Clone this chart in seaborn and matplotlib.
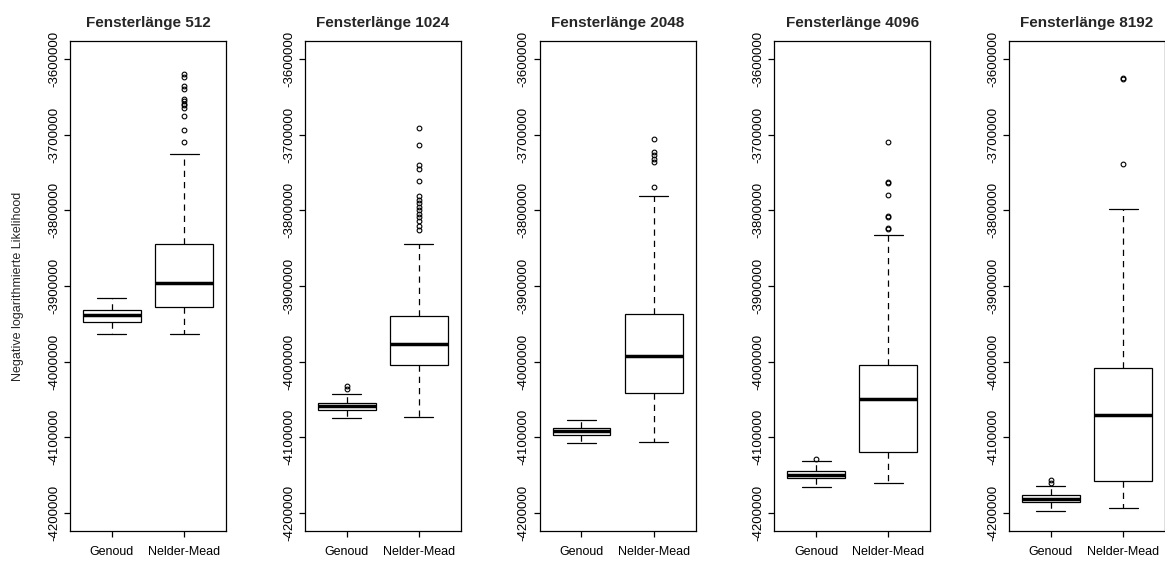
import numpy as np
import pandas as pd
import matplotlib
matplotlib.use("Agg")
import matplotlib.pyplot as plt
import seaborn as sns
from matplotlib.ticker import FixedLocator, FuncFormatter

# ---------------- data (values in thousands) ----------------
methods = ["Genoud", "Nelder-Mead"]
window_lengths = [512, 1024, 2048, 4096, 8192]

# [lower whisker, Q1, median, Q3, upper whisker]
genoud_stats = [
    [-3963, -3947, -3939, -3932, -3916],
    [-4074, -4064, -4059, -4055, -4043],
    [-4108, -4097, -4092, -4088, -4077],
    [-4166, -4154, -4150, -4145, -4132],
    [-4198, -4186, -4182, -4177, -4164],
]
genoud_outliers = [
    [],
    [-4032, -4036],
    [],
    [-4129],
    [-4157, -4161],
]
nm_stats = [
    [-3964, -3928, -3896, -3844, -3725],
    [-4073, -4004, -3977, -3940, -3845],
    [-4106, -4042, -3993, -3937, -3781],
    [-4161, -4120, -4050, -4004, -3833],
    [-4193, -4158, -4070, -4009, -3798],
]
nm_outliers = [
    [-3620, -3623, -3636, -3640, -3653, -3656, -3659, -3661, -3664, -3675, -3694, -3710],
    [-3691, -3713, -3740, -3745, -3761, -3781, -3786, -3790, -3795, -3800, -3805,
     -3809, -3814, -3820, -3826],
    [-3705, -3723, -3727, -3732, -3736, -3769],
    [-3710, -3762, -3764, -3780, -3807, -3809, -3823, -3825],
    [-3625, -3626, -3739],
]

y_ticks = [-3600000, -3700000, -3800000, -3900000, -4000000, -4100000, -4200000]
title_prefix = "Fensterlänge"
y_label = "Negative logarithmierte Likelihood"


def sample_from_summary(stats, outliers):
    """Sorted sample whose quartiles/whiskers equal the read summary values."""
    lo, q1, med, q3, hi = stats
    m = len(outliers)
    k = m + 2
    n = 4 * k + 1
    vals = [lo] + [q1] * k + [med] * k + [q3] * k
    vals += [q3] * (n - 1 - m - len(vals)) + [hi] + sorted(outliers)
    return np.array(vals, dtype=float) * 1000.0


# ---------------- styling ----------------
sns.set_theme(style="ticks")
plt.rcParams["font.family"] = ["Liberation Sans", "DejaVu Sans"]
plt.rcParams["axes.unicode_minus"] = False

W, H = 1165, 565
fig = plt.figure(figsize=(W / 100, H / 100), dpi=100)
fig.patch.set_facecolor("white")

frame_top, frame_bottom = 41, 531
frame_w = 156
lefts = [70 + 234.75 * i for i in range(5)]

for i, wl in enumerate(window_lengths):
    ax = fig.add_axes([lefts[i] / W, 1 - frame_bottom / H,
                       frame_w / W, (frame_bottom - frame_top) / H])
    g = sample_from_summary(genoud_stats[i], genoud_outliers[i])
    nmv = sample_from_summary(nm_stats[i], nm_outliers[i])
    df = pd.DataFrame({
        "Methode": [methods[0]] * len(g) + [methods[1]] * len(nmv),
        "Wert": np.concatenate([g, nmv]),
    })
    sns.boxplot(
        data=df, x="Methode", y="Wert", order=methods, ax=ax,
        width=0.8, whis=1.5, color="white", linecolor="black",
        linewidth=0.9, fliersize=3.4,
        boxprops=dict(facecolor="white", edgecolor="black", linewidth=0.9),
        whiskerprops=dict(color="black", linewidth=0.9, linestyle=(0, (5, 4))),
        capprops=dict(color="black", linewidth=0.9),
        medianprops=dict(color="black", linewidth=2.5),
        flierprops=dict(marker="o", markerfacecolor="none",
                        markeredgecolor="black", markeredgewidth=0.8),
    )
    ax.set_xlim(-0.58, 1.58)
    ax.set_ylim(-4224000, -3576000)
    ax.yaxis.set_major_locator(FixedLocator(y_ticks))
    ax.yaxis.set_major_formatter(FuncFormatter(lambda v, p: f"{int(round(v))}"))
    ax.set_xlabel("")
    ax.set_ylabel("")
    for s in ax.spines.values():
        s.set_visible(True)
        s.set_color("black")
        s.set_linewidth(0.9)
    ax.tick_params(axis="both", which="major", length=4, width=0.9,
                   color="black", labelcolor="black")
    ax.tick_params(axis="y", pad=3, labelsize=9.5)
    ax.tick_params(axis="x", pad=7, labelsize=9)
    for lab in ax.get_yticklabels():
        lab.set_rotation(90)
        lab.set_va("center")
    ax.set_title(f"{title_prefix} {wl}", fontsize=11, fontweight="bold", pad=10)
    ax.grid(False)

fig.text(18 / W, 1 - ((frame_top + frame_bottom) / 2) / H, y_label,
         rotation=90, ha="center", va="center", fontsize=9)

fig.savefig("out.png", dpi=100, facecolor="white")
